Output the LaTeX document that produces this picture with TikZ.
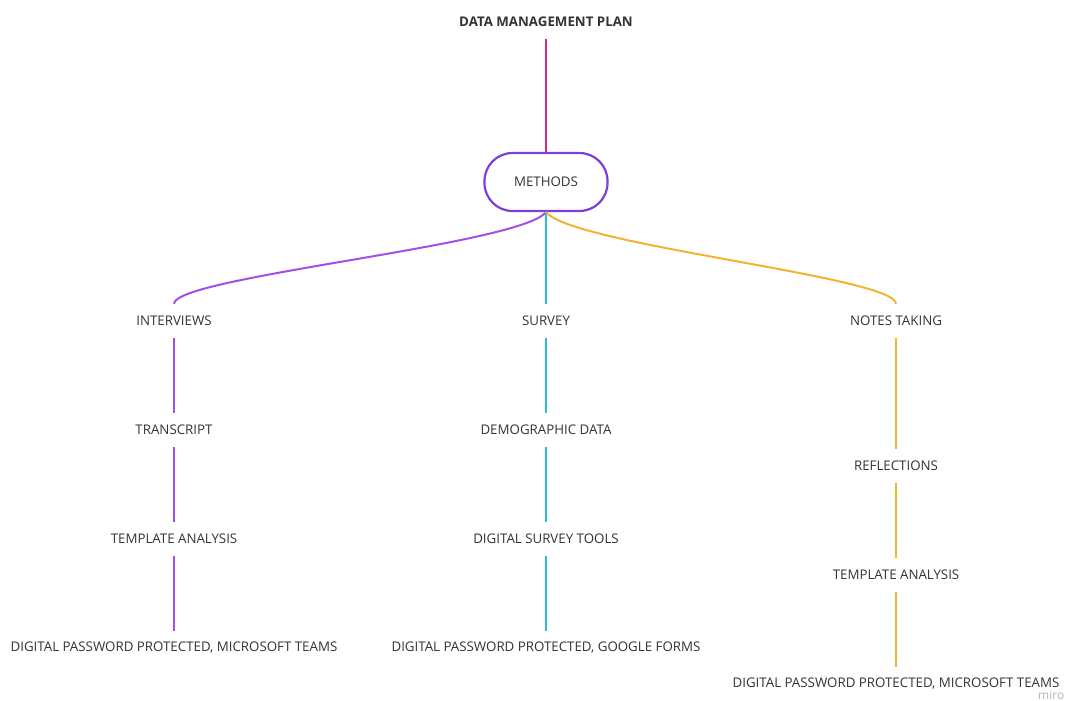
\documentclass[tikz,border=0pt]{standalone}
\usepackage{fontspec}
\setmainfont{Open Sans}
\usetikzlibrary{calc}
\definecolor{txt}{HTML}{333333}
\definecolor{pinkline}{HTML}{D6287F}
\definecolor{purpleline}{HTML}{A14FE6}
\definecolor{purplebox}{HTML}{7E3FD6}
\definecolor{cyanline}{HTML}{2CBCDB}
\definecolor{orangeline}{HTML}{F0B431}
\tikzset{
  label/.style={text=txt, font=\fontsize{13.3}{15}\selectfont, inner sep=0pt, minimum height=34pt, anchor=center},
  conn/.style={line width=2pt},
}
\begin{document}
\begin{tikzpicture}[x=1pt, y=-1pt]
\useasboundingbox (0,0) rectangle (1074,701);

% title and central node
\node[label, font=\fontsize{13.3}{15}\selectfont\bfseries] (title) at (546,22) {DATA MANAGEMENT PLAN};
\node[draw=purplebox, line width=2.2pt, rounded corners=28pt, minimum width=123pt, minimum height=58pt,
      text=txt, font=\fontsize{13.3}{15}\selectfont, inner sep=0pt] (methods) at (546,182) {METHODS};

% interviews branch
\node[label] (int) at (174,321) {INTERVIEWS};
\node[label] (tra) at (174,430) {TRANSCRIPT};
\node[label] (tan1) at (174,539) {TEMPLATE ANALYSIS};
\node[label] (dig1) at (174,648) {DIGITAL PASSWORD PROTECTED, MICROSOFT TEAMS};

% survey branch
\node[label] (sur) at (546,321) {SURVEY};
\node[label] (dem) at (546,430) {DEMOGRAPHIC DATA};
\node[label] (dst) at (546,539) {DIGITAL SURVEY TOOLS};
\node[label] (dig2) at (546,648) {DIGITAL PASSWORD PROTECTED, GOOGLE FORMS};

% notes taking branch
\node[label] (not) at (896,321) {NOTES TAKING};
\node[label] (ref) at (896,466) {REFLECTIONS};
\node[label] (tan2) at (896,575) {TEMPLATE ANALYSIS};
\node[label] (dig3) at (896,684) {DIGITAL PASSWORD PROTECTED, MICROSOFT TEAMS};

% connectors
\draw[conn, pinkline] (title.south) -- (methods.north);
\draw[conn, purpleline] (methods.south) .. controls +(-26,33) and +(0,-27) .. (int.north);
\draw[conn, cyanline] (methods.south) -- (sur.north);
\draw[conn, orangeline] (methods.south) .. controls +(26,33) and +(0,-27) .. (not.north);

\draw[conn, purpleline] (int.south) -- (tra.north);
\draw[conn, purpleline] (tra.south) -- (tan1.north);
\draw[conn, purpleline] (tan1.south) -- (dig1.north);

\draw[conn, cyanline] (sur.south) -- (dem.north);
\draw[conn, cyanline] (dem.south) -- (dst.north);
\draw[conn, cyanline] (dst.south) -- (dig2.north);

\draw[conn, orangeline] (not.south) -- (ref.north);
\draw[conn, orangeline] (ref.south) -- (tan2.north);
\draw[conn, orangeline] (tan2.south) -- (dig3.north);

% watermark
\node[text=black!30, font=\fontsize{12}{14}\selectfont, anchor=base west, inner sep=0pt] (wm) at (1038,699) {miro};
\end{tikzpicture}
\end{document}
